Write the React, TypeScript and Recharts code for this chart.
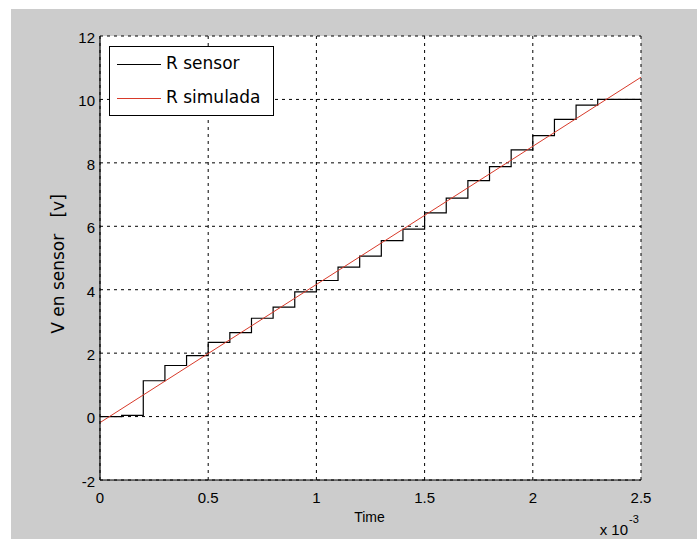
import React from 'react';
import { LineChart, Line, XAxis, YAxis, CartesianGrid, Legend } from 'recharts';

// Measured sensor output (time in seconds, volts) — stepwise
const sensorTime = [0, 0.0001, 0.0002, 0.0003, 0.0004, 0.0005, 0.0006, 0.0007, 0.0008, 0.0009, 0.001, 0.0011, 0.0012, 0.0013, 0.0014, 0.0015, 0.0016, 0.0017, 0.0018, 0.0019, 0.002, 0.0021, 0.0022, 0.0023, 0.0025];
const sensorValues = [0, 0.04, 1.13, 1.61, 1.92, 2.34, 2.65, 3.1, 3.45, 3.93, 4.29, 4.71, 5.06, 5.55, 5.91, 6.42, 6.89, 7.44, 7.88, 8.41, 8.86, 9.37, 9.82, 10.0, 10.0];

// Simulated model output
const simTime = [0, 0.0025];
const simValues = [-0.19, 10.7];

const xTicks = [0, 0.0005, 0.001, 0.0015, 0.002, 0.0025];
const yTicks = [-2, 0, 2, 4, 6, 8, 10, 12];

const sensorData = sensorTime.map((t, i) => ({ t, v: sensorValues[i] }));
const simData = simTime.map((t, i) => ({ t, v: simValues[i] }));

const COMIC = '"DejaVu Sans", sans-serif';
const SANS = '"Liberation Sans", Arial, sans-serif';

const LegendBox = () => (
  <div
    style={{
      position: 'relative',
      width: 165,
      height: 70,
      boxSizing: 'border-box',
      border: '1px solid #000',
      background: '#fff',
      fontFamily: COMIC,
      fontSize: 17,
      color: '#000',
    }}
  >
    {[
      { name: 'R sensor', color: '#000', y: 17 },
      { name: 'R simulada', color: '#d83a2a', y: 51 },
    ].map((it) => (
      <React.Fragment key={it.name}>
        <div style={{ position: 'absolute', left: 7, top: it.y, width: 44, height: 0, borderTop: `1px solid ${it.color}` }} />
        <div style={{ position: 'absolute', left: 56, top: it.y - 11, lineHeight: '20px', whiteSpace: 'nowrap' }}>{it.name}</div>
      </React.Fragment>
    ))}
  </div>
);

const YLabel = (props: any) => {
  const cx = 64;
  const cy = 264;
  return (
    <text
      x={cx}
      y={cy}
      transform={`rotate(-90, ${cx}, ${cy})`}
      textAnchor="middle"
      fontFamily={COMIC}
      fontSize={17}
      fill="#000"
      style={{ whiteSpace: 'pre' }}
    >
      {'V en sensor   [v]'}
    </text>
  );
};

const XLabel = (props: any) => {
  const vb = props.viewBox || { x: 100, y: 480, width: 541, height: 59 };
  return (
    <g>
      <text
        x={vb.x + vb.width / 2 - 1}
        y={vb.y + 42}
        textAnchor="middle"
        fontFamily={'"Liberation Sans Narrow", "Liberation Sans", Arial, sans-serif'}
        fontSize={14}
        fill="#000"
      >
        Time
      </text>
      <text x={vb.x + vb.width - 13} y={vb.y + 55} textAnchor="end" fontFamily={SANS} fontSize={15} fill="#000">
        x 10
      </text>
      <text x={vb.x + vb.width - 12} y={vb.y + 43} textAnchor="start" fontFamily={SANS} fontSize={11} fill="#000">
        -3
      </text>
    </g>
  );
};

const TitleLabel = (props: any) => {
  const vb = props.viewBox || { x: 100, y: 36, width: 541, height: 0 };
  return (
    <text x={vb.x + vb.width / 2} y={27} textAnchor="middle" fontFamily={COMIC} fontSize={17} fill="#000">
      Measured and simulated model output
    </text>
  );
};

export default function App() {
  return (
    <div style={{ position: 'absolute', left: 0, top: 0, width: 697, height: 539, background: '#fff', overflow: 'hidden' }}>
      <div style={{ position: 'absolute', left: 11, top: 9, right: 0, bottom: 0, background: '#cccccc' }} />
      <div style={{ position: 'absolute', left: 0, top: 0 }}>
        <LineChart width={697} height={539} margin={{ top: 36, right: 56, bottom: 0, left: 0 }}>
          <CartesianGrid stroke="#000" strokeDasharray="3 4" strokeWidth={1} fill="#fff" fillOpacity={1} />
          <XAxis
            xAxisId={0}
            dataKey="t"
            type="number"
            domain={[0, 0.0025]}
            ticks={xTicks}
            allowDataOverflow
            height={59}
            axisLine={{ stroke: '#000', strokeWidth: 1.2 }}
            tickLine={false}
            tickSize={6}
            tickMargin={6}
            tick={{ fill: '#000', fontFamily: SANS, fontSize: 15 }}
            tickFormatter={(v: number) => String(+(v * 1000).toFixed(1))}
            label={<XLabel />}
          />
          <XAxis
            xAxisId="top"
            orientation="top"
            dataKey="t"
            type="number"
            domain={[0, 0.0025]}
            ticks={xTicks}
            height={0}
            tick={false}
            tickLine={false}
            axisLine={{ stroke: '#000', strokeWidth: 1.2 }}
            label={<TitleLabel />}
          />
          <YAxis
            yAxisId={0}
            type="number"
            domain={[-2, 12]}
            ticks={yTicks}
            allowDataOverflow
            width={100}
            axisLine={{ stroke: '#000', strokeWidth: 1.2 }}
            tickLine={false}
            tickSize={0}
            tickMargin={5}
            tick={{ fill: '#000', fontFamily: SANS, fontSize: 15, dy: 1.5 }}
            label={<YLabel />}
          />
          <YAxis
            yAxisId="right"
            orientation="right"
            type="number"
            domain={[-2, 12]}
            width={0}
            tick={false}
            tickLine={false}
            axisLine={{ stroke: '#000', strokeWidth: 1.2 }}
          />
          <Legend
            layout="horizontal"
            verticalAlign="middle"
            align="center"
            content={() => <LegendBox />}
            wrapperStyle={{ position: 'absolute', left: 109, top: 46, width: 165, height: 70 }}
          />
          <Line
            data={sensorData}
            dataKey="v"
            name="R sensor"
            type="stepAfter"
            stroke="#000"
            strokeWidth={1.2}
            dot={false}
            activeDot={false}
            isAnimationActive={false}
            xAxisId={0}
            yAxisId={0}
          />
          <Line
            data={simData}
            dataKey="v"
            name="R simulada"
            type="linear"
            stroke="#d83a2a"
            strokeWidth={1}
            dot={false}
            activeDot={false}
            isAnimationActive={false}
            xAxisId={0}
            yAxisId={0}
          />
        </LineChart>
      </div>
    </div>
  );
}
